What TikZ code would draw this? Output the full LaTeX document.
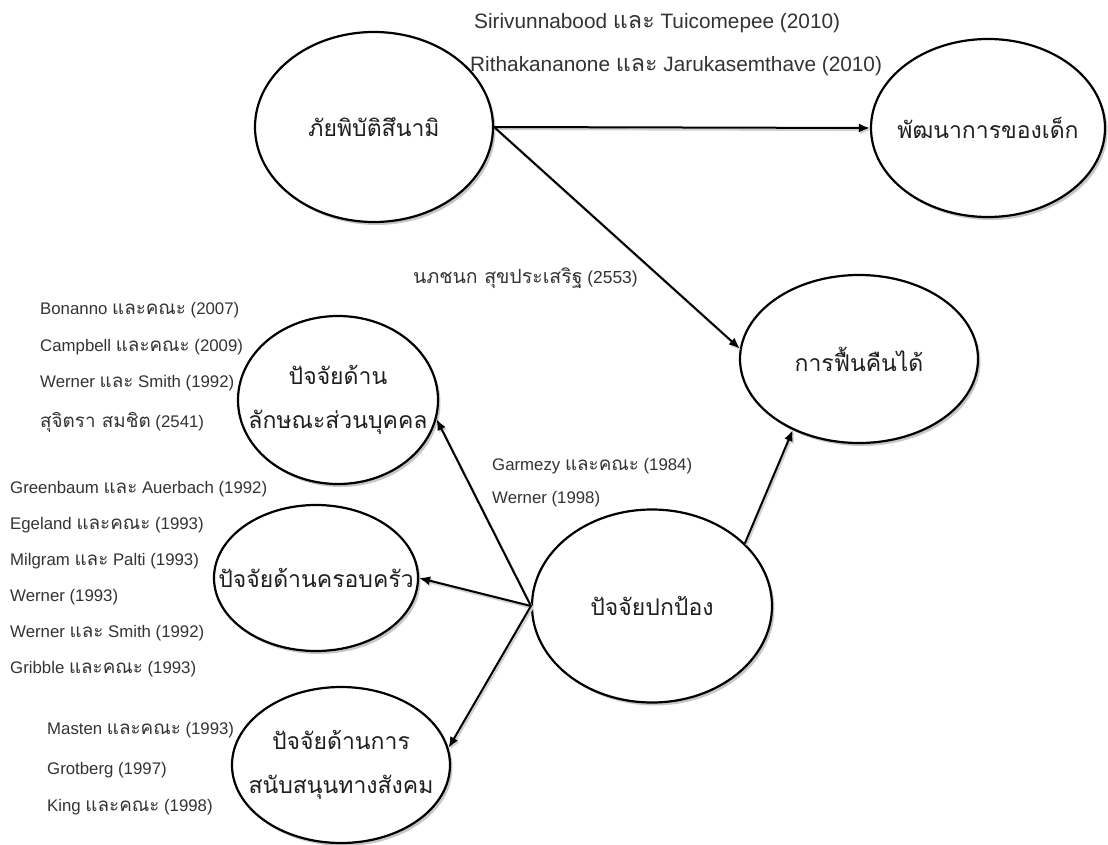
\documentclass[tikz,border=0pt]{standalone}
\usepackage{fontspec}
\setmainfont{Liberation Sans}
\newfontfamily\thai[Script=Thai]{Loma}
\newfontfamily\thaicite[Script=Thai,Scale=1.12]{Loma}
\usetikzlibrary{shapes.geometric,arrows.meta,shadows}
\newcommand\tha[1]{{\thaicite #1}}
\begin{document}
\begin{tikzpicture}[x=1pt,y=-1pt,
  bubble/.style={ellipse, draw, line width=2.2pt, fill=white, inner sep=0pt,
    drop shadow={shadow xshift=2.5pt, shadow yshift=-3pt, fill=black!22, opacity=1}},
  bubtext/.style={inner sep=0pt, align=center, text=black!88,
    font=\thai\fontsize{23}{44}\selectfont},
  cite/.style={anchor=west, inner sep=0pt, text=black!80,
    font=\fontsize{16.8}{19}\selectfont},
  bigcite/.style={cite, font=\fontsize{20.8}{22}\selectfont},
  link/.style={line width=2pt, -{Latex[length=11pt,width=9pt]},
    preaction={draw=black!18, line width=2.2pt,
      transform canvas={xshift=1.5pt,yshift=-2pt}}}
]
\useasboundingbox[fill=white] (0,0) rectangle (1108,845);

% ellipses
\node[bubble, minimum width=238pt, minimum height=190pt] (tsunami) at (374,127) {};
\node[bubble, minimum width=234pt, minimum height=178pt] (devel) at (988,128) {};
\node[bubble, minimum width=238pt, minimum height=168pt] (resil) at (859,359) {};
\node[bubble, minimum width=200pt, minimum height=168pt] (person) at (338,400) {};
\node[bubble, minimum width=204pt, minimum height=146pt] (family) at (316,578) {};
\node[bubble, minimum width=240pt, minimum height=193pt] (protect) at (652,606) {};
\node[bubble, minimum width=218pt, minimum height=156pt] (social) at (341,765) {};

% ellipse labels
\node[bubtext] (tsunami-t) at (tsunami) {ภัยพิบัติสึนามิ};
\node[bubtext] (devel-t) at (devel) {พัฒนาการของเด็ก};
\node[bubtext] (resil-t) at (resil) {การฟื้นคืนได้};
\node[bubtext] (person-t) at (person) {ปัจจัยด้าน\\ลักษณะส่วนบุคคล};
\node[bubtext] (family-t) at (family) {ปัจจัยด้านครอบครัว};
\node[bubtext] (protect-t) at (protect) {ปัจจัยปกป้อง};
\node[bubtext] (social-t) at (social) {ปัจจัยด้านการ\\สนับสนุนทางสังคม};

% connectors
\draw[link] (tsunami.east) -- (devel.west);
\draw[link] (tsunami.east) -- (resil.175);
\draw[link] (protect.34) -- (resil.227);
\draw[link] (protect.west) -- (person.349);
\draw[link] (protect.west) -- (family.east);
\draw[link] (protect.west) -- (social.9);

% citations along the top arrows
\node[bigcite] (c1) at (474,23) {Sirivunnabood \tha{และ} Tuicomepee (2010)};
\node[bigcite] (c2) at (470,66) {Rithakananone \tha{และ} Jarukasemthave (2010)};
\node[cite, font=\fontsize{17.4}{19}\selectfont] (c3) at (413,278) {\tha{นภชนก สุขประเสริฐ} (2553)};

% personal factors
\node[cite] (p1) at (40,310) {Bonanno \tha{และคณะ} (2007)};
\node[cite] (p2) at (40,347) {Campbell \tha{และคณะ} (2009)};
\node[cite] (p3) at (40,383) {Werner \tha{และ} Smith (1992)};
\node[cite] (p4) at (40,422) {\tha{สุจิตรา สมชิต} (2541)};

% protective factors
\node[cite] (g1) at (492,466) {Garmezy \tha{และคณะ} (1984)};
\node[cite] (g2) at (492,499) {Werner (1998)};

% family factors
\node[cite] (f1) at (10,489) {Greenbaum \tha{และ} Auerbach (1992)};
\node[cite] (f2) at (10,525) {Egeland \tha{และคณะ} (1993)};
\node[cite] (f3) at (10,561) {Milgram \tha{และ} Palti (1993)};
\node[cite] (f4) at (10,597) {Werner (1993)};
\node[cite] (f5) at (10,633) {Werner \tha{และ} Smith (1992)};
\node[cite] (f6) at (10,669) {Gribble \tha{และคณะ} (1993)};

% social support
\node[cite] (s1) at (47,730) {Masten \tha{และคณะ} (1993)};
\node[cite] (s2) at (47,770) {Grotberg (1997)};
\node[cite] (s3) at (47,807) {King \tha{และคณะ} (1998)};
\end{tikzpicture}
\end{document}
